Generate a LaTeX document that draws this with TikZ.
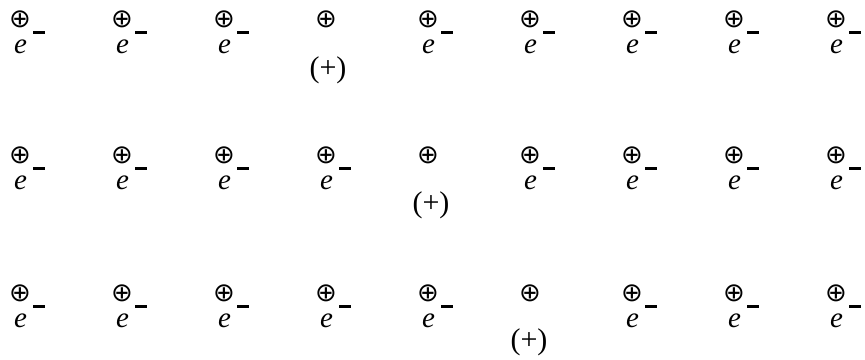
\documentclass[tikz,border=0pt]{standalone}
\usepackage{fontspec}
\setmainfont{Liberation Serif}
\newfontfamily\symfont{DejaVu Sans}

\begin{document}
\begin{tikzpicture}[x=1pt, y=-1pt,
    ion/.style={inner sep=-3pt, font=\symfont\fontsize{26}{26}\selectfont},
    electron/.style={inner sep=0pt, anchor=base west,
                     font=\fontsize{29}{29}\selectfont\itshape},
    hole/.style={inner sep=0pt, font=\fontsize{30}{30}\selectfont}
]
    \useasboundingbox (0,0) rectangle (865,359);

    % Row 1 (hole under the fourth ion)
    \foreach \c in {0,...,8}
        \node[ion] (ion-1-\c) at (20+102*\c, 19) {⊕};
    \foreach \c in {0,1,2,4,5,6,7,8}
        \node[electron] (el-1-\c) at (14+102*\c, 53)
            {e\hspace{6pt}\rule[19.5pt]{12pt}{2.2pt}};
    \node[hole] (hole-1) at (328, 70) {(+)};

    % Row 2 (hole under the fifth ion)
    \foreach \c in {0,...,8}
        \node[ion] (ion-2-\c) at (20+102*\c, 155) {⊕};
    \foreach \c in {0,1,2,3,5,6,7,8}
        \node[electron] (el-2-\c) at (14+102*\c, 189)
            {e\hspace{6pt}\rule[19.5pt]{12pt}{2.2pt}};
    \node[hole] (hole-2) at (431, 205) {(+)};

    % Row 3 (hole under the sixth ion)
    \foreach \c in {0,...,8}
        \node[ion] (ion-3-\c) at (20+102*\c, 293) {⊕};
    \foreach \c in {0,1,2,3,4,6,7,8}
        \node[electron] (el-3-\c) at (14+102*\c, 327)
            {e\hspace{6pt}\rule[19.5pt]{12pt}{2.2pt}};
    \node[hole] (hole-3) at (529, 342) {(+)};
\end{tikzpicture}
\end{document}
